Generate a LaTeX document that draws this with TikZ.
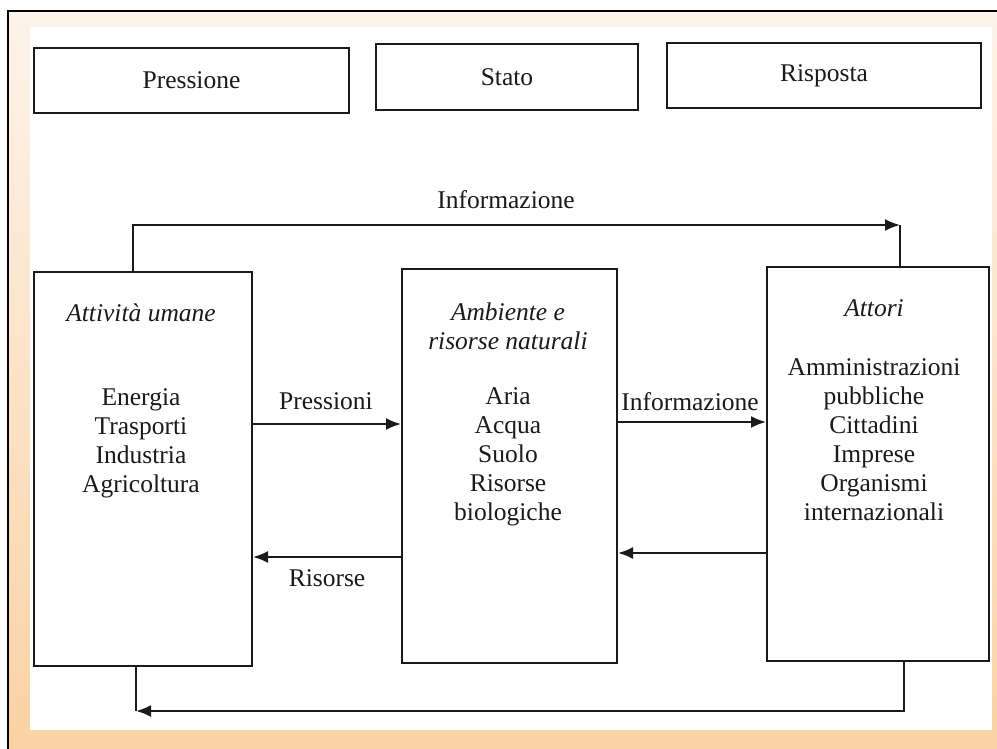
\documentclass[tikz,border=0pt]{standalone}
\usepackage{fontspec}
\setmainfont{Liberation Serif}
\usetikzlibrary{arrows.meta}
\definecolor{peach}{HTML}{FAD2A4}
\definecolor{peachlight}{HTML}{FDF3EA}
\definecolor{ink}{HTML}{1A1A1A}
\begin{document}
\begin{tikzpicture}[x=1pt,y=-1pt,
  boxshape/.style={draw=ink, line width=2pt, rectangle, inner sep=0pt, anchor=north west},
  txt/.style={font=\fontsize{25.5}{29}\selectfont, align=center, inner sep=0pt, text=ink},
  ittxt/.style={txt, font=\fontsize{25.5}{29}\selectfont\itshape},
  link/.style={line width=1.9pt, draw=ink},
  tip/.style={-{Latex[length=15pt,width=12pt]}}
]
% page and framed panel
\useasboundingbox (0,0) rectangle (997,749);
\fill[white] (0,0) rectangle (997,749);
\shade[top color=peachlight, bottom color=peach] (8,11) rectangle (997,749);
\fill[white] (30,27) rectangle (992,730);
\draw[black, line width=1.4pt] (8,749) -- (8,11) -- (997,11);

% headings
\node[boxshape, minimum width=315pt, minimum height=65pt] (hp) at (33,47) {};
\node[boxshape, minimum width=262pt, minimum height=66pt] (hs) at (375,43) {};
\node[boxshape, minimum width=314pt, minimum height=65pt] (hr) at (666,42) {};
\node[txt] (tp) at (hp.center) {Pressione};
\node[txt] (ts) at (hs.center) {Stato};
\node[txt] (tr) at (hr.center) {Risposta};

% main blocks
\node[boxshape, minimum width=218pt, minimum height=394pt] (act) at (33,271) {};
\node[boxshape, minimum width=215pt, minimum height=394pt] (amb) at (401,268) {};
\node[boxshape, minimum width=222pt, minimum height=394pt] (ato) at (766,266) {};

\node[ittxt] (acth) at (141,313) {Attività umane};
\node[txt] (actl) at (141,443.5) {Energia\\Trasporti\\Industria\\Agricoltura};

\node[ittxt] (ambh) at (508,326) {Ambiente e\\risorse naturali};
\node[txt] (ambl) at (508,456.5) {Aria\\Acqua\\Suolo\\Risorse\\biologiche};

\node[ittxt] (atoh) at (874,308) {Attori};
\node[txt] (atol) at (874,439.5) {Amministrazioni\\pubbliche\\Cittadini\\Imprese\\Organismi\\internazionali};

% arrow levels
\coordinate (yp) at (0,424);
\coordinate (yr) at (0,557);
\coordinate (yi) at (0,422);
\coordinate (yb) at (0,553);
\coordinate (ta) at (133,225);
\coordinate (tb) at (900,225);
\coordinate (ba) at (904,711);
\coordinate (bb) at (136,711);

% connectors between blocks
\draw[link,tip] (act.east |- yp) -- (amb.west |- yp);
\draw[link,tip] (amb.west |- yr) -- (act.east |- yr);
\draw[link,tip] (amb.east |- yi) -- (ato.west |- yi);
\draw[link,tip] (ato.west |- yb) -- (amb.east |- yb);

\node[txt] (lp) at (326,401) {Pressioni};
\node[txt] (lr) at (327,578) {Risorse};
\node[txt] (li) at (690,402) {Informazione};

% outer loops
\draw[link,tip] (act.north -| ta) |- (tb);
\draw[link] (tb) -- (ato.north -| tb);
\node[txt] (lt) at (506,200) {Informazione};

\draw[link,tip] (ato.south -| ba) |- (bb);
\draw[link] (bb) -- (act.south -| bb);
\end{tikzpicture}
\end{document}
